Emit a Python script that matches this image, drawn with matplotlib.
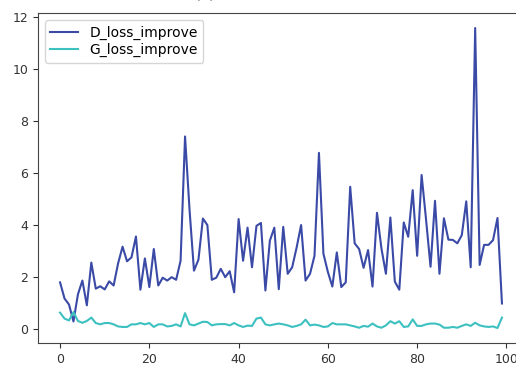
import numpy as np
import matplotlib
matplotlib.use("Agg")
import matplotlib.pyplot as plt

# loss improvement per epoch
d_loss_improve = [
    1.80, 1.18, 0.95, 0.30, 1.34, 1.87, 0.92, 2.56, 1.56, 1.65,
    1.53, 1.84, 1.68, 2.53, 3.17, 2.61, 2.76, 3.56, 1.52, 2.72,
    1.62, 3.08, 1.68, 1.98, 1.87, 2.00, 1.90, 2.63, 7.40, 4.60,
    2.25, 2.67, 4.25, 4.00, 1.90, 1.98, 2.32, 2.00, 2.23, 1.42,
    4.23, 2.63, 3.90, 2.38, 3.97, 4.08, 1.49, 3.40, 3.90, 1.54,
    3.93, 2.13, 2.38, 3.14, 4.00, 1.87, 2.13, 2.82, 6.77, 2.90,
    2.20, 1.64, 2.95, 1.62, 1.80, 5.47, 3.30, 3.08, 2.36, 3.04,
    1.64, 4.47, 3.10, 2.13, 4.29, 1.83, 1.52, 4.10, 3.55, 5.34,
    2.82, 5.92, 4.20, 2.40, 4.93, 2.13, 4.26, 3.44, 3.43, 3.30,
    3.61, 4.91, 2.38, 11.56, 2.47, 3.24, 3.24, 3.42, 4.27, 0.99,
]
g_loss_improve = [
    0.64, 0.41, 0.34, 0.66, 0.32, 0.25, 0.32, 0.45, 0.24, 0.19,
    0.24, 0.24, 0.19, 0.11, 0.09, 0.09, 0.19, 0.19, 0.24, 0.19,
    0.24, 0.09, 0.19, 0.19, 0.11, 0.13, 0.19, 0.11, 0.62, 0.19,
    0.15, 0.22, 0.29, 0.28, 0.15, 0.19, 0.20, 0.20, 0.15, 0.24,
    0.15, 0.09, 0.14, 0.13, 0.41, 0.45, 0.19, 0.15, 0.19, 0.22,
    0.19, 0.15, 0.09, 0.13, 0.19, 0.37, 0.15, 0.18, 0.15, 0.09,
    0.11, 0.24, 0.19, 0.19, 0.19, 0.15, 0.11, 0.06, 0.13, 0.10,
    0.22, 0.11, 0.06, 0.15, 0.31, 0.22, 0.31, 0.09, 0.11, 0.38,
    0.13, 0.13, 0.19, 0.22, 0.22, 0.18, 0.06, 0.06, 0.09, 0.06,
    0.13, 0.19, 0.13, 0.25, 0.15, 0.11, 0.09, 0.11, 0.05, 0.45,
]
epochs = np.arange(len(d_loss_improve))

plt.rcParams["font.size"] = 9

fig = plt.figure(figsize=(5.16, 3.65), dpi=100)
# axes runs past the right edge, as in the cropped reference
ax = fig.add_axes([0.0736, 0.0603, 0.942, 0.904])
ax.plot(epochs, d_loss_improve, color="#3a4aa6", lw=1.5, label="D_loss_improve")
ax.plot(epochs, g_loss_improve, color="#3dc0c0", lw=1.5, label="G_loss_improve")
ax.set_xticks([0, 20, 40, 60, 80, 100])
ax.set_yticks([0, 2, 4, 6, 8, 10, 12])
ax.legend(loc="upper left", fontsize=10, labelspacing=0.25)
for s in ax.spines.values():
    s.set_color("#444444")
ax.tick_params(colors="#333333")

# title is cut off at the top of the reference
fig.text(0.397, 368 / 365, "(a)", ha="center", va="baseline", fontsize=11)

fig.savefig("out.png", dpi=100)
